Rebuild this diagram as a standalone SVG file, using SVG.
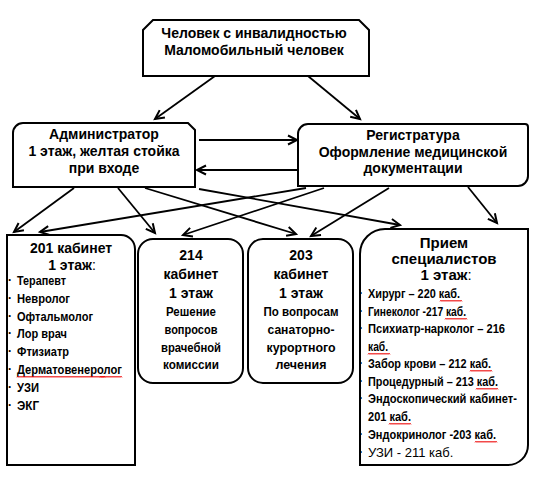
<svg xmlns="http://www.w3.org/2000/svg" width="540" height="484" viewBox="0 0 540 484">
<style>
.box{fill:#fff;stroke:#000;stroke-width:2}
.h{font-family:"Liberation Sans",Arial,sans-serif;font-weight:bold;font-size:14px;fill:#000;text-anchor:middle}
.hp{font-family:"Liberation Sans",Arial,sans-serif;font-weight:bold;font-size:15px;fill:#000;text-anchor:middle}
.n{font-family:"Liberation Sans",Arial,sans-serif;font-weight:bold;font-size:13px;fill:#000}
.nc{font-family:"Liberation Sans",Arial,sans-serif;font-weight:bold;font-size:13px;fill:#000;text-anchor:middle}
.r{font-family:"Liberation Sans",Arial,sans-serif;font-size:13px;fill:#000}
.b{font-family:"Liberation Sans",Arial,sans-serif;font-weight:bold;font-size:12px;fill:#000}
.c{font-weight:normal}
.arr{fill:none;stroke:#000;stroke-width:1.8;marker-end:url(#ah)}
.wv{fill:none;stroke:#e00;stroke-width:0.8}
</style>
<defs>
<marker id="ah" markerUnits="userSpaceOnUse" markerWidth="14" markerHeight="14" refX="11" refY="6" orient="auto">
<path d="M2,1.5 L11,6 L2,10.5" fill="none" stroke="#000" stroke-width="2"/>
</marker>
<path id="w" d="M0,1.5 l1,-1.5 l1,1.5 l1,-1.5 l1,1.5 l1,-1.5 l1,1.5 l1,-1.5 l1,1.5 l1,-1.5 l1,1.5 l1,-1.5 l1,1.5 l1,-1.5 l1,1.5 l1,-1.5 l1,1.5 l1,-1.5 l1,1.5 l1,-1.5 l1,1.5 l1,-1.5 l1,1.5"/>
</defs>

<g id="connectors">
<path class="arr" d="M215,76 L155,119"/>
<path class="arr" d="M308,76 L360,119"/>
<path class="arr" d="M199,140 L297,140"/>
<path class="arr" d="M298,170 L197,170"/>
<path class="arr" d="M74,188 L14,232"/>
<path class="arr" d="M118,188 L155,233"/>
<path class="arr" d="M145,188 L296,234"/>
<path class="arr" d="M199,189 L400,225"/>
<path class="arr" d="M306,188 L40,232"/>
<path class="arr" d="M324,188 L183,235"/>
<path class="arr" d="M389,188 L311,236"/>
<path class="arr" d="M468,187 L497,223"/>
</g>

<g id="person">
<path class="box" d="M153,20 H359 L369,30 V76 H143 V30 Z"/>
<text class="h" x="254" y="38">Человек с инвалидностью</text>
<text class="h" x="254" y="55">Маломобильный человек</text>
</g>

<g id="admin">
<path class="box" d="M23,123 H188 L195,130 V187 H13 V133 A10,10 0 0 1 23,123 Z"/>
<text class="h" x="104" y="139">Администратор</text>
<text class="h" x="104" y="156">1 этаж, желтая стойка</text>
<text class="h" x="104" y="173">при входе</text>
</g>

<g id="registry">
<path class="box" d="M308,124 H525 A3,3 0 0 1 528,127 V176 A10,10 0 0 1 518,186 H298 V134 A10,10 0 0 1 308,124 Z"/>
<text class="h" x="413" y="140">Регистратура</text>
<text class="h" x="413" y="157">Оформление медицинской</text>
<text class="h" x="413" y="173">документации</text>
</g>

<g id="cab201">
<path class="box" d="M7,235 H121 A14,14 0 0 1 135,249 V465 H7 Z"/>
<text class="h" x="71" y="253">201 кабинет</text>
<text class="h" x="72" y="270">1 этаж<tspan class="c">:</tspan></text>
<g class="b">
<text x="8" y="284">·</text><text x="8" y="302">·</text><text x="8" y="320">·</text><text x="8" y="337">·</text>
<text x="8" y="355">·</text><text x="8" y="373">·</text><text x="8" y="391">·</text><text x="8" y="409">·</text>
</g>
<text class="n" x="17" y="285" textLength="49" lengthAdjust="spacingAndGlyphs">Терапевт</text>
<text class="n" x="17" y="303" textLength="53" lengthAdjust="spacingAndGlyphs">Невролог</text>
<text class="n" x="17" y="321" textLength="76" lengthAdjust="spacingAndGlyphs">Офтальмолог</text>
<text class="n" x="17" y="338" textLength="50" lengthAdjust="spacingAndGlyphs">Лор врач</text>
<text class="n" x="17" y="356" textLength="52" lengthAdjust="spacingAndGlyphs">Фтизиатр</text>
<text class="n" x="17" y="374" textLength="105" lengthAdjust="spacingAndGlyphs">Дерматовенеролог</text>
<text class="n" x="17" y="392" textLength="22" lengthAdjust="spacingAndGlyphs">УЗИ</text>
<text class="n" x="17" y="410" textLength="22" lengthAdjust="spacingAndGlyphs">ЭКГ</text>
<use class="wv" href="#w" x="17" y="376"/><use class="wv" href="#w" x="39" y="376"/><use class="wv" href="#w" x="61" y="376"/><use class="wv" href="#w" x="83" y="376"/><use class="wv" href="#w" x="100" y="376"/>
</g>

<g id="cab214">
<rect class="box" x="138" y="239" width="105" height="144" rx="15"/>
<text class="h" x="191" y="260">214</text>
<text class="h" x="191" y="279">кабинет</text>
<text class="h" x="191" y="298">1 этаж</text>
<text class="nc" x="191" y="316" textLength="50" lengthAdjust="spacingAndGlyphs">Решение</text>
<text class="nc" x="191" y="334" textLength="53" lengthAdjust="spacingAndGlyphs">вопросов</text>
<text class="nc" x="191" y="352" textLength="60" lengthAdjust="spacingAndGlyphs">врачебной</text>
<text class="nc" x="191" y="369" textLength="56" lengthAdjust="spacingAndGlyphs">комиссии</text>
</g>

<g id="cab203">
<rect class="box" x="248" y="239" width="105" height="144" rx="15"/>
<text class="h" x="301" y="260">203</text>
<text class="h" x="301" y="279">кабинет</text>
<text class="h" x="301" y="298">1 этаж</text>
<text class="nc" x="301" y="316" textLength="75" lengthAdjust="spacingAndGlyphs">По вопросам</text>
<text class="nc" x="301" y="334" textLength="67" lengthAdjust="spacingAndGlyphs">санаторно-</text>
<text class="nc" x="301" y="352" textLength="69" lengthAdjust="spacingAndGlyphs">курортного</text>
<text class="nc" x="301" y="369" textLength="51" lengthAdjust="spacingAndGlyphs">лечения</text>
</g>

<g id="specialists">
<path class="box" d="M385,229 H528 V445 A20,20 0 0 1 508,465 H360 V254 A25,25 0 0 1 385,229 Z"/>
<text class="hp" x="444" y="248">Прием</text>
<text class="hp" x="444" y="264">специалистов</text>
<text class="hp" x="446" y="280">1 этаж<tspan class="c">:</tspan></text>
<g class="b">
<text x="359" y="297">·</text><text x="359" y="315">·</text><text x="359" y="332">·</text>
<text x="359" y="367">·</text><text x="359" y="385">·</text><text x="359" y="402">·</text>
<text x="359" y="438">·</text><text x="359" y="456">·</text>
</g>
<text class="n" x="368" y="298" textLength="92" lengthAdjust="spacingAndGlyphs">Хирург – 220 каб.</text>
<text class="n" x="368" y="316" textLength="98" lengthAdjust="spacingAndGlyphs">Гинеколог -217 каб.</text>
<text class="n" x="368" y="333" textLength="137" lengthAdjust="spacingAndGlyphs">Психиатр-нарколог – 216</text>
<text class="n" x="368" y="351" textLength="20" lengthAdjust="spacingAndGlyphs">каб.</text>
<text class="n" x="368" y="368" textLength="123" lengthAdjust="spacingAndGlyphs">Забор крови – 212 каб.</text>
<text class="n" x="368" y="386" textLength="130" lengthAdjust="spacingAndGlyphs">Процедурный – 213 каб.</text>
<text class="n" transform="translate(368,403) scale(0.82,1)" x="0" y="0" textLength="181.7" lengthAdjust="spacingAndGlyphs">Эндоскопический кабинет-</text>
<text class="n" x="368" y="421" textLength="43" lengthAdjust="spacingAndGlyphs">201 каб.</text>
<text class="n" x="368" y="439" textLength="128" lengthAdjust="spacingAndGlyphs">Эндокринолог -203 каб.</text>
<text class="r" x="368" y="457">УЗИ - 211 каб.</text>
<use class="wv" href="#w" x="440" y="300"/>
<use class="wv" href="#w" x="445" y="318"/>
<use class="wv" href="#w" x="368" y="353"/>
<use class="wv" href="#w" x="470" y="370"/>
<use class="wv" href="#w" x="476" y="388"/>
<use class="wv" href="#w" x="389" y="423"/>
<use class="wv" href="#w" x="475" y="441"/>
</g>
</svg>
